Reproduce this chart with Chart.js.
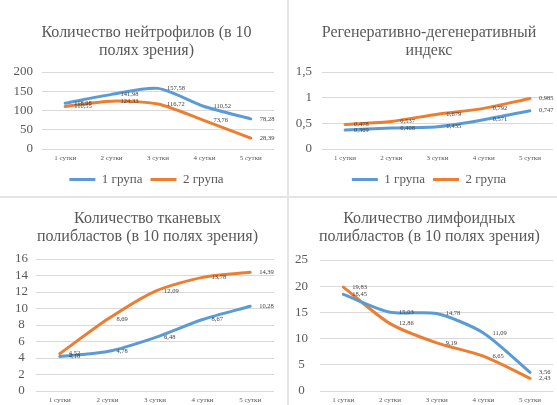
<!DOCTYPE html>
<html>
<head>
<meta charset="utf-8">
<script src="https://cdn.jsdelivr.net/npm/chart.js@4"></script>
<style>
  html, body { margin: 0; padding: 0; background: #fff; overflow: hidden; width: 557px; height: 405px; }
  .panel { position: absolute; }
  .vline { position: absolute; left: 287px; top: 0; width: 2px; height: 405px; background: #e4e4e4; z-index: 2; }
  .hline { position: absolute; left: 0; top: 196px; width: 557px; height: 2px; background: #e4e4e4; z-index: 2; }
</style>
</head>
<body>
<div class="panel" style="left:0;top:0;width:287px;height:196px"><canvas id="neutro"></canvas></div>
<div class="panel" style="left:289px;top:0;width:268px;height:196px"><canvas id="index"></canvas></div>
<div class="panel" style="left:0;top:199px;width:287px;height:240px"><canvas id="tissue"></canvas></div>
<div class="panel" style="left:289px;top:199px;width:268px;height:240px"><canvas id="lymph"></canvas></div>
<div class="vline"></div>
<div class="hline"></div>
<script>
// Days of observation and group names
const categories = ['1 сутки', '2 сутки', '3 сутки', '4 сутки', '5 сутки'];
const groupNames = ['1 група', '2 група'];

// Neutrophils (per 10 fields of view)
const neutroG1 = [118.98, 141.98, 157.58, 110.52, 78.28];
const neutroG2 = [110.55, 124.33, 116.72, 73.76, 28.39];

// Regenerative-degenerative index
const indexG1 = [0.369, 0.408, 0.435, 0.571, 0.747];
const indexG2 = [0.478, 0.537, 0.679, 0.792, 0.985];

// Tissue polyblasts (per 10 fields of view)
const tissueG1 = [4.18, 4.78, 6.48, 8.67, 10.28];
const tissueG2 = [4.52, 8.69, 12.09, 13.78, 14.39];

// Lymphoid polyblasts (per 10 fields of view)
const lymphG1 = [18.45, 15.03, 14.78, 11.09, 3.56];
const lymphG2 = [19.83, 12.86, 9.19, 6.65, 2.43];

const SERIF = '"Liberation Serif", "Times New Roman", serif';
const BLUE = '#5B9BD5';
const ORANGE = '#ED7D31';
const GREY_TEXT = '#595959';

const commaNum = v => String(v).replace('.', ',');

// Value labels drawn to the right of each point
const valueLabels = {
  id: 'valueLabels',
  afterDatasetsDraw(chart, args, opts) {
    const ctx = chart.ctx;
    ctx.save();
    ctx.font = opts.size + 'px ' + SERIF;
    ctx.fillStyle = opts.color;
    ctx.textAlign = 'left';
    ctx.textBaseline = 'middle';
    chart.data.datasets.forEach((ds, i) => {
      const meta = chart.getDatasetMeta(i);
      meta.data.forEach((pt, j) => {
        ctx.fillText(commaNum(ds.data[j]), pt.x + opts.offset, pt.y);
      });
    });
    ctx.restore();
  }
};

function buildChart(id, title, g1, g2, yMin, yMax, yStep, geom) {
  const line = (label, data, color) => ({
    label, data,
    borderColor: color, backgroundColor: color,
    borderWidth: 3, pointRadius: 0, pointHoverRadius: 0,
    tension: 0.25, borderCapStyle: 'round', borderJoinStyle: 'round'
  });
  return new Chart(document.getElementById(id), {
    type: 'line',
    data: {
      labels: categories,
      datasets: [line(groupNames[0], g1, BLUE), line(groupNames[1], g2, ORANGE)]
    },
    plugins: [valueLabels],
    options: {
      responsive: true,
      maintainAspectRatio: false,
      animation: false,
      events: [],
      layout: { padding: { left: geom.padL, right: geom.padR, top: 0, bottom: geom.padB } },
      plugins: {
        title: {
          display: true,
          text: title,
          color: GREY_TEXT,
          font: { family: SERIF, size: 16, weight: 'normal', lineHeight: 1.12 },
          padding: { top: geom.titleTop, bottom: geom.titleBottom }
        },
        legend: {
          display: true,
          position: 'bottom',
          labels: {
            color: GREY_TEXT,
            font: { family: SERIF, size: 13 },
            usePointStyle: true,
            pointStyle: 'line',
            pointStyleWidth: 26,
            padding: 8
          }
        },
        tooltip: { enabled: false },
        valueLabels: { size: 6.5, color: '#404040', offset: 9 }
      },
      scales: {
        x: {
          offset: true,
          grid: { display: false, drawTicks: false },
          border: { display: false },
          ticks: { color: GREY_TEXT, font: { family: SERIF, size: 7 }, padding: 5, maxRotation: 0, autoSkip: false },
          afterFit: s => { s.height = 16; }
        },
        y: {
          min: yMin, max: yMax,
          grid: { color: '#d9d9d9', lineWidth: 1, drawTicks: false },
          border: { display: false },
          ticks: {
            stepSize: yStep,
            autoSkip: false,
            color: GREY_TEXT,
            font: { family: SERIF, size: 13 },
            padding: geom.tickPad,
            crossAlign: geom.crossAlign,
            callback: v => commaNum(v)
          },
          afterFit: s => {
            s.width = geom.yWidth;
            // tick labels may extend into the layout padding, so do not clip them to the axis box
            s._computeLabelArea = () => undefined;
          }
        }
      }
    }
  });
}

buildChart('neutro', ['Количество нейтрофилов (в 10', 'полях зрения)'],
  neutroG1, neutroG2, 0, 200, 50,
  { padL: 19, padR: 13, padB: 0, yWidth: 23, tickPad: 9, crossAlign: 'near', titleTop: 23.5, titleBottom: 12.7 });

buildChart('index', ['Регенеративно-дегенеративный', 'индекс'],
  indexG1, indexG2, 0, 1.5, 0.5,
  { padL: 16, padR: 4, padB: 0, yWidth: 17, tickPad: 10, crossAlign: 'near', titleTop: 23.5, titleBottom: 12.7 });

buildChart('tissue', ['Количество тканевых', 'полибластов (в 10 полях зрения)'],
  tissueG1, tissueG2, 0, 16, 2,
  { padL: 21, padR: 13, padB: 1, yWidth: 15, tickPad: 8, crossAlign: 'center', titleTop: 10.5, titleBottom: 13.7 });

buildChart('lymph', ['Количество лимфоидных', 'полибластов (в 10 полях зрения)'],
  lymphG1, lymphG2, 0, 25, 5,
  { padL: 16.4, padR: 3.6, padB: 1, yWidth: 14.6, tickPad: 12, crossAlign: 'center', titleTop: 10.5, titleBottom: 14.7 });
</script>
</body>
</html>
